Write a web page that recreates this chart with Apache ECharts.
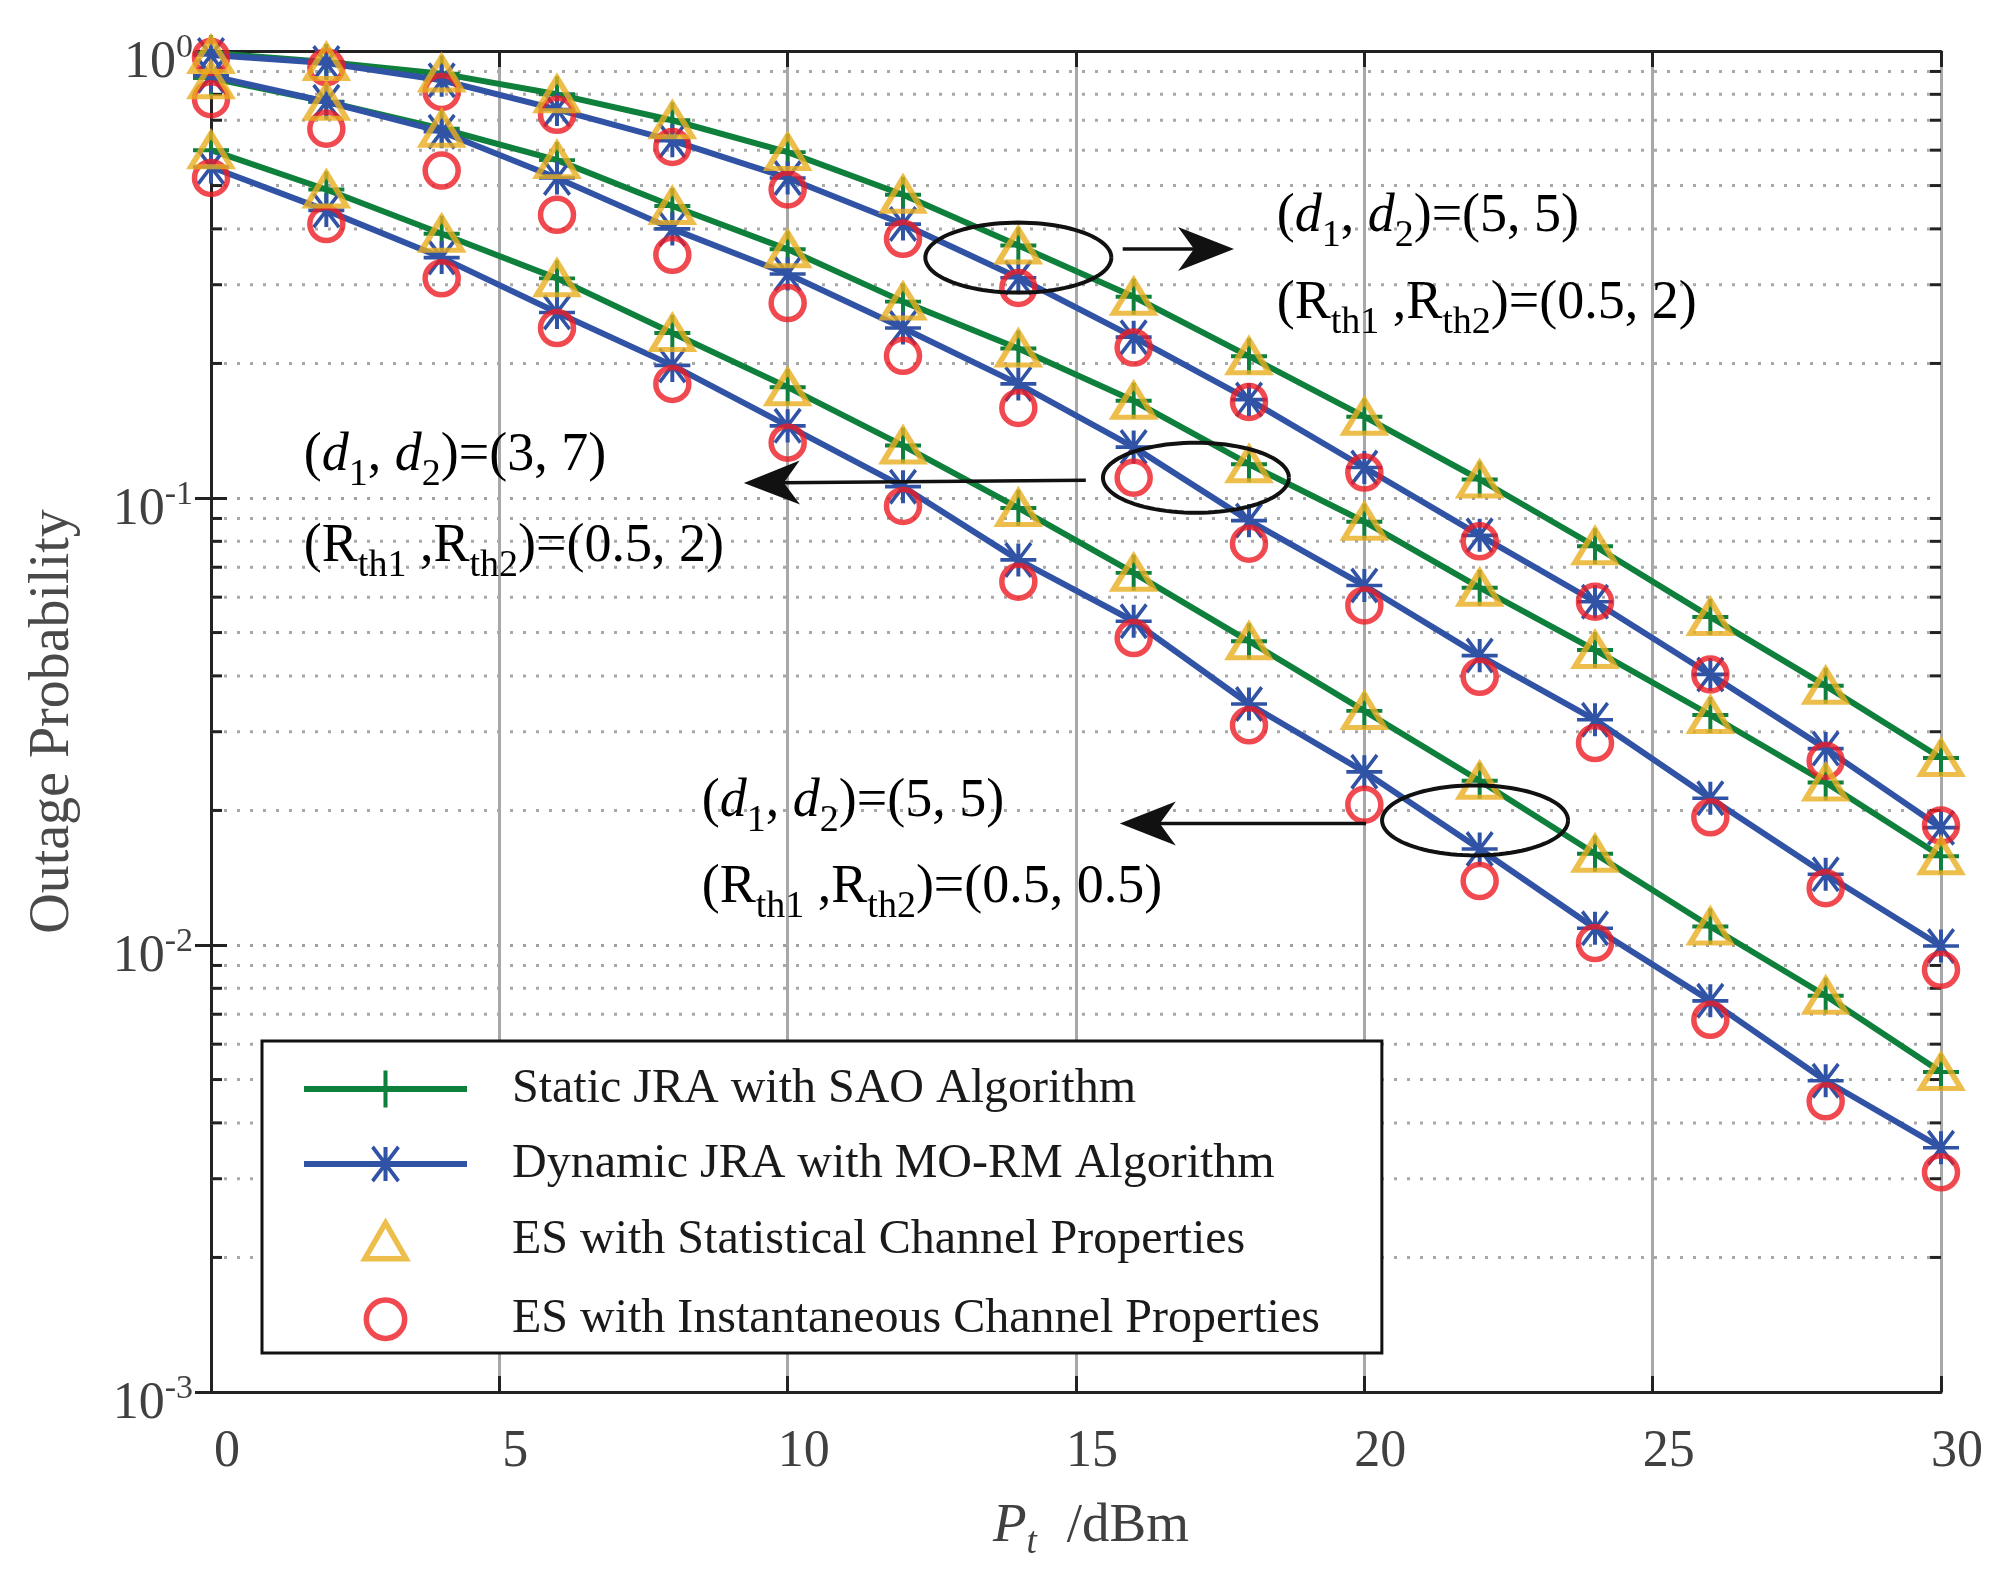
<!DOCTYPE html>
<html><head><meta charset="utf-8">
<script src="https://cdn.jsdelivr.net/npm/echarts@6/dist/echarts.min.js"></script>
<style>html,body{margin:0;padding:0;background:#fff}#c{width:2002px;height:1579px}</style>
</head><body><div id="c"></div>
<script>
// ---------------- data ----------------
const pt = [0,2,4,6,8,10,12,14,16,18,20,22,24,26,28,30];
// (d1,d2)=(5,5), (Rth1,Rth2)=(0.5,2)
const sao_a     = [0.99,0.945,0.89,0.80,0.70,0.594,0.477,0.367,0.282,0.2075,0.152,0.110,0.078,0.0542,0.038,0.0262];
const mo_a      = [0.98,0.94,0.86,0.74,0.63,0.52,0.41,0.311,0.229,0.166,0.117,0.0825,0.0586,0.0403,0.0275,0.0183];
const esStat_a  = [0.98,0.945,0.89,0.80,0.70,0.594,0.477,0.367,0.282,0.2075,0.152,0.110,0.078,0.0542,0.038,0.0262];
const esInst_a  = [0.97,0.92,0.81,0.72,0.61,0.49,0.38,0.295,0.217,0.164,0.114,0.080,0.0586,0.0403,0.0258,0.0185];
// (d1,d2)=(3,7), (Rth1,Rth2)=(0.5,2)
const sao_b     = [0.87,0.77,0.67,0.57,0.45,0.36,0.275,0.216,0.165,0.119,0.0885,0.063,0.0457,0.0327,0.0231,0.0158];
const mo_b      = [0.88,0.77,0.66,0.52,0.40,0.317,0.24,0.18,0.13,0.089,0.0637,0.0444,0.0319,0.0213,0.0144,0.00995];
const esStat_b  = [0.86,0.77,0.67,0.57,0.45,0.36,0.275,0.216,0.165,0.119,0.0885,0.063,0.0457,0.0327,0.0231,0.0158];
const esInst_b  = [0.78,0.67,0.54,0.43,0.35,0.273,0.208,0.159,0.111,0.079,0.0575,0.0398,0.0283,0.0193,0.0134,0.0088];
// (d1,d2)=(5,5), (Rth1,Rth2)=(0.5,0.5)
const sao_c     = [0.60,0.49,0.39,0.31,0.234,0.177,0.131,0.095,0.068,0.0478,0.0334,0.0233,0.016,0.011,0.0077,0.0052];
const mo_c      = [0.55,0.44,0.345,0.26,0.198,0.145,0.106,0.0727,0.053,0.0346,0.0244,0.0164,0.0109,0.0075,0.00497,0.00352];
const esStat_c  = [0.60,0.49,0.39,0.31,0.234,0.177,0.131,0.095,0.068,0.0478,0.0334,0.0233,0.016,0.011,0.0077,0.0052];
const esInst_c  = [0.52,0.41,0.31,0.24,0.18,0.133,0.096,0.065,0.0486,0.031,0.0206,0.0139,0.0101,0.0068,0.00447,0.0031];

const seriesNames = [
  'Static JRA with SAO Algorithm',
  'Dynamic JRA with MO-RM Algorithm',
  'ES with Statistical Channel Properties',
  'ES with Instantaneous Channel Properties'
];
const yMinorValues = [0.002,0.003,0.004,0.005,0.006,0.007,0.008,0.009,
                      0.02,0.03,0.04,0.05,0.06,0.07,0.08,0.09,
                      0.2,0.3,0.4,0.5,0.6,0.7,0.8,0.9];
// annotation anchors (data coordinates)
const annoEllipses = [[14.0,0.345],[17.08,0.111],[21.92,0.019]];
const annoArrows = [[15.81,0.3606,17.74,0.3606],[15.17,0.1096,9.24,0.108],[20.03,0.0187,15.76,0.0187]];
const annoTexts = [
  [18.48,0.425,'{n|(}{i|d}{s|1}{n|, }{i|d}{s|2}{n|)=(5, 5)}'],
  [18.48,0.2716,'{n|(R}{s|th1}{n| ,R}{s|th2}{n|)=(0.5, 2)}'],
  [1.61,0.124,'{n|(}{i|d}{s|1}{n|, }{i|d}{s|2}{n|)=(3, 7)}'],
  [1.61,0.0777,'{n|(R}{s|th1}{n| ,R}{s|th2}{n|)=(0.5, 2)}'],
  [8.51,0.0209,'{n|(}{i|d}{s|1}{n|, }{i|d}{s|2}{n|)=(5, 5)}'],
  [8.51,0.01342,'{n|(R}{s|th1}{n| ,R}{s|th2}{n|)=(0.5, 0.5)}']
];

// ---------------- styles ----------------
const FONT = 'Liberation Serif';
const GREEN = '#0f7f3c', BLUE = '#3153a5', ORANGE = '#e9ae1f', RED = '#ec1c24';
const plusPath = 'path://M8.9 0H11.1V20H8.9Z M0 8.9H20V11.1H0Z';
const starPath = 'path://M8.9 0H11.1V20H8.9Z M0 8.9H20V11.1H0Z M2.2 0.6L3.7 -0.9L17.8 19.4L16.3 20.9Z M16.3 -0.9L17.8 0.6L3.7 20.9L2.2 19.4Z';
const triPath = 'path://M10 0L20 17.32L0 17.32Z';
// legend icons with a little empty margin so they keep the reference size
const triLegendIcon = 'path://M10 0L20 17.32L0 17.32Z M-1.6 -2.5L-1.6 -2.5 M21.6 19.8L21.6 19.8';
const circLegendIcon = 'path://M10 0A10 10 0 1 1 10 20A10 10 0 1 1 10 0Z M-1 -2L-1 -2 M21 22L21 22';
const zip = arr => pt.map((x, i) => [x, arr[i]]);

function lineSeries(name, arr, color, sym, z) {
  return {name, type: 'line', data: zip(arr), symbol: sym, symbolSize: 36, clip: false,
    lineStyle: {color, width: 6}, itemStyle: {color, borderWidth: 0}, z, animation: false,
    emphasis: {disabled: true}};
}
function scatterSeries(name, arr, color, sym, size, z) {
  return {name, type: 'scatter', data: zip(arr), symbol: sym, symbolSize: size, clip: false,
    itemStyle: {color: 'rgba(0,0,0,0)', borderColor: color, borderWidth: 5.5}, z, animation: false,
    emphasis: {disabled: true}};
}

const richText = {
  n: {fontFamily: FONT, fontSize: 54, color: '#1a1a1a', lineHeight: 76, verticalAlign: 'middle'},
  i: {fontFamily: FONT, fontSize: 54, fontStyle: 'italic', color: '#1a1a1a', lineHeight: 76, verticalAlign: 'middle'},
  s: {fontFamily: FONT, fontSize: 38, color: '#1a1a1a', lineHeight: 38, verticalAlign: 'bottom'}
};
const AXIS_LINE = {show: true, lineStyle: {color: '#222', width: 3}};

const series = [
  // minor grid + minor ticks
  {type: 'custom', silent: true, z: 1, clip: false, animation: false,
   data: yMinorValues.map(v => [0, v]), encode: {x: 0, y: 1},
   renderItem(params, api) {
     const v = api.value(1);
     const p0 = api.coord([0, v]), p1 = api.coord([30, v]);
     return {type: 'group', children: [
       {type: 'line', shape: {x1: p0[0], y1: p0[1], x2: p1[0], y2: p1[1]},
        style: {stroke: '#a8a8a8', lineWidth: 3, lineDash: [3, 10]}},
       {type: 'line', shape: {x1: p0[0], y1: p0[1], x2: p0[0] + 11, y2: p0[1]}, style: {stroke: '#222', lineWidth: 3}},
       {type: 'line', shape: {x1: p1[0] - 11, y1: p1[1], x2: p1[0], y2: p1[1]}, style: {stroke: '#222', lineWidth: 3}}
     ]};
   }},
  lineSeries(seriesNames[0], sao_a, GREEN, plusPath, 3),
  lineSeries(seriesNames[0], sao_b, GREEN, plusPath, 3),
  lineSeries(seriesNames[0], sao_c, GREEN, plusPath, 3),
  lineSeries(seriesNames[1], mo_a, BLUE, starPath, 4),
  lineSeries(seriesNames[1], mo_b, BLUE, starPath, 4),
  lineSeries(seriesNames[1], mo_c, BLUE, starPath, 4),
  scatterSeries(seriesNames[3], esInst_a, RED, 'circle', 33, 5),
  scatterSeries(seriesNames[3], esInst_b, RED, 'circle', 33, 5),
  scatterSeries(seriesNames[3], esInst_c, RED, 'circle', 33, 5),
  scatterSeries(seriesNames[2], esStat_a, ORANGE, triPath, [40, 33], 6),
  scatterSeries(seriesNames[2], esStat_b, ORANGE, triPath, [40, 33], 6),
  scatterSeries(seriesNames[2], esStat_c, ORANGE, triPath, [40, 33], 6),
  // ellipses
  {type: 'custom', silent: true, z: 7, clip: false, animation: false,
   data: annoEllipses, encode: {x: 0, y: 1},
   renderItem(params, api) {
     const c = api.coord([api.value(0), api.value(1)]);
     const pts = [];
     for (let k = 0; k <= 96; k++) {
       const a = k / 96 * Math.PI * 2;
       pts.push([c[0] + 93 * Math.cos(a), c[1] + 35 * Math.sin(a)]);
     }
     return {type: 'polyline', shape: {points: pts}, style: {stroke: '#111', lineWidth: 4, fill: null}};
   }},
  // arrows
  {type: 'custom', silent: true, z: 7, clip: false, animation: false,
   data: annoArrows, encode: {x: [0, 2], y: [1, 3]},
   renderItem(params, api) {
     const a = api.coord([api.value(0), api.value(1)]);
     const b = api.coord([api.value(2), api.value(3)]);
     const ang = Math.atan2(b[1] - a[1], b[0] - a[0]);
     const L = 56, W = 22, N = 40;
     const cs = Math.cos(ang), sn = Math.sin(ang);
     const tr = (u, v) => [b[0] + u * cs - v * sn, b[1] + u * sn + v * cs];
     const head = [tr(0, 0), tr(-L, -W), tr(-N, 0), tr(-L, W)];
     const lineEnd = tr(-N + 2, 0);
     return {type: 'group', children: [
       {type: 'line', shape: {x1: a[0], y1: a[1], x2: lineEnd[0], y2: lineEnd[1]}, style: {stroke: '#111', lineWidth: 3.5}},
       {type: 'polygon', shape: {points: head}, style: {fill: '#111'}}
     ]};
   }},
  // annotation texts
  {type: 'custom', silent: true, z: 8, clip: false, animation: false,
   data: annoTexts.map(t => [t[0], t[1]]), encode: {x: 0, y: 1},
   renderItem(params, api) {
     const p = api.coord([api.value(0), api.value(1)]);
     return {type: 'text', x: p[0], y: p[1],
       style: {text: annoTexts[params.dataIndex][2], rich: richText, align: 'left', verticalAlign: 'middle'}};
   }}
];

const chart = echarts.init(document.getElementById('c'), null, {renderer: 'canvas'});
chart.setOption({
  backgroundColor: '#fff',
  animation: false,
  grid: {left: 211, top: 51, right: 61, bottom: 187, containLabel: false, outerBoundsMode: 'none',
         show: false},
  legend: {
    left: 262, top: 1041, orient: 'vertical',
    backgroundColor: '#fff', borderColor: '#111', borderWidth: 3,
    padding: [24, 62, 8, 39],
    itemWidth: 163, itemHeight: 46, itemGap: 27,
    textStyle: {fontFamily: FONT, fontSize: 48, color: '#1a1a1a', lineHeight: 46, padding: [0, 0, 0, 40]},
    data: [
      {name: seriesNames[0], lineStyle: {width: 6}},
      {name: seriesNames[1], lineStyle: {width: 6}},
      {name: seriesNames[2], icon: triLegendIcon, itemStyle: {borderWidth: 5.5}},
      {name: seriesNames[3], icon: circLegendIcon, itemStyle: {borderWidth: 5.5}}
    ],
    selectedMode: false
  },
  xAxis: [
    {type: 'value', min: 0, max: 30, interval: 5, position: 'bottom',
     name: '{i|P}{si|t}{n|/dBm}', nameLocation: 'middle', nameGap: 100,
     nameTextStyle: {padding: [0, 0, 0, 30], rich: {
       i: {fontFamily: FONT, fontSize: 55, fontStyle: 'italic', color: '#404040', lineHeight: 70, verticalAlign: 'middle'},
       si: {fontFamily: FONT, fontSize: 37, fontStyle: 'italic', color: '#404040', lineHeight: 32, verticalAlign: 'bottom'},
       n: {fontFamily: FONT, fontSize: 55, color: '#404040', lineHeight: 70, verticalAlign: 'middle', padding: [0, 0, 0, 30]}
     }},
     axisLine: AXIS_LINE,
     axisTick: {inside: true, length: 16, lineStyle: {color: '#222', width: 3}},
     axisLabel: {fontFamily: FONT, fontSize: 52, color: '#404040', margin: 34, padding: [0, 0, 0, 32]},
     splitLine: {show: true, lineStyle: {color: '#a8a8a8', width: 3, type: 'solid'}}},
    {type: 'value', min: 0, max: 30, interval: 5, position: 'top',
     axisLine: AXIS_LINE, axisLabel: {show: false}, splitLine: {show: false},
     axisTick: {inside: true, length: 16, lineStyle: {color: '#222', width: 3}}}
  ],
  yAxis: [
    {type: 'log', logBase: 10, min: 0.001, max: 1, splitNumber: 3,
     name: 'Outage Probability', nameLocation: 'middle', nameGap: 130,
     nameTextStyle: {fontFamily: FONT, fontSize: 56, color: '#4a4a4a'},
     axisLine: AXIS_LINE,
     axisTick: {inside: true, length: 16, lineStyle: {color: '#222', width: 3}},
     axisLabel: {margin: 18, padding: [24, 0, 0, 0],
       formatter: v => '{b|10}{p|' + Math.round(Math.log10(v)) + '}',
       rich: {
         b: {fontFamily: FONT, fontSize: 52, color: '#404040', lineHeight: 64, verticalAlign: 'middle'},
         p: {fontFamily: FONT, fontSize: 34, color: '#404040', lineHeight: 28, verticalAlign: 'top'}
       }},
     splitLine: {show: true, lineStyle: {color: '#a0a0a0', width: 3, type: [3, 10]}}},
    {type: 'log', logBase: 10, min: 0.001, max: 1, splitNumber: 3, position: 'right',
     axisLine: AXIS_LINE, axisLabel: {show: false}, splitLine: {show: false},
     axisTick: {inside: true, length: 16, lineStyle: {color: '#222', width: 3}}}
  ],
  series
});
</script>
</body></html>
